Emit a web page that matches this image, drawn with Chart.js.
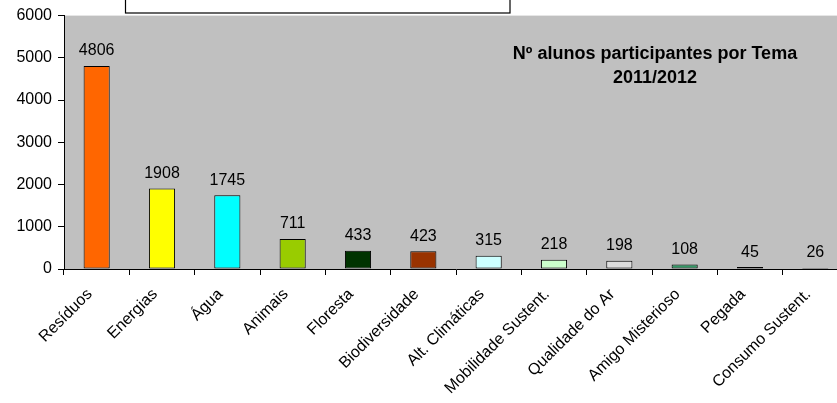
<!DOCTYPE html>
<html>
<head>
<meta charset="utf-8">
<script src="https://cdn.jsdelivr.net/npm/chart.js@4"></script>
<style>
  html, body { margin: 0; padding: 0; background: #fff; overflow: hidden; }
  #wrap { position: relative; width: 850px; height: 403px; }
</style>
</head>
<body>
<div id="wrap"><canvas id="chart"></canvas></div>
<script>
// data
const temas = ['Resíduos', 'Energias', 'Água', 'Animais', 'Floresta', 'Biodiversidade',
    'Alt. Climáticas', 'Mobilidade Sustent.', 'Qualidade do Ar', 'Amigo Misterioso',
    'Pegada', 'Consumo Sustent.'];
const alunos = [4806, 1908, 1745, 711, 433, 423, 315, 218, 198, 108, 45, 26];
const yTicks = [0, 1000, 2000, 3000, 4000, 5000, 6000];
const titleLines = ['Nº alunos participantes por Tema', '2011/2012'];

const barColors = ['#FF6600', '#FFFF00', '#00FFFF', '#99CC00', '#003300', '#993300',
    '#CCFFFF', '#CCFFCC', '#DDDDDD', '#339966', '#6666CC', '#000000'];

const FONT = 'Arial, "Liberation Sans", sans-serif';

// grey plot background + leftover box at the top
const backdrop = {
    id: 'backdrop',
    beforeDraw(chart) {
        const { ctx, chartArea: a } = chart;
        ctx.save();
        ctx.fillStyle = '#C0C0C0';
        ctx.fillRect(a.left, a.top, a.right - a.left, a.bottom - a.top);
        ctx.fillStyle = '#fff';
        ctx.strokeStyle = '#000';
        ctx.lineWidth = 1.2;
        ctx.fillRect(125.5, -2, 384.5, 15);
        ctx.strokeRect(125.5, -2, 384.5, 15);
        ctx.restore();
    }
};

// value labels over the bars and the title inside the plot
const labels = {
    id: 'labels',
    afterDatasetsDraw(chart) {
        const { ctx } = chart;
        const meta = chart.getDatasetMeta(0);
        ctx.save();
        ctx.fillStyle = '#000';
        ctx.font = '16px ' + FONT;
        ctx.textAlign = 'center';
        ctx.textBaseline = 'bottom';
        meta.data.forEach((bar, i) => {
            ctx.fillText(alunos[i], bar.x, bar.y - 7);
        });

        ctx.font = 'bold 18px ' + FONT;
        ctx.textBaseline = 'alphabetic';
        ctx.fillText(titleLines[0], 655, 59);
        ctx.fillText(titleLines[1], 655, 83);
        ctx.restore();
    }
};

new Chart(document.getElementById('chart'), {
    type: 'bar',
    data: {
        labels: temas,
        datasets: [{
            data: alunos,
            backgroundColor: barColors,
            borderColor: '#000',
            borderWidth: 1,
            borderSkipped: false,
            barPercentage: 0.4,
            categoryPercentage: 1
        }]
    },
    options: {
        responsive: true,
        maintainAspectRatio: false,
        animation: false,
        layout: { padding: { top: 15, right: 2, left: 0, bottom: 0 } },
        plugins: {
            legend: { display: false },
            tooltip: { enabled: false }
        },
        scales: {
            x: {
                offset: true,
                grid: {
                    offset: true,
                    drawOnChartArea: false,
                    drawTicks: true,
                    tickLength: 6,
                    color: '#000'
                },
                border: { color: '#000', width: 1 },
                ticks: {
                    color: '#000',
                    font: { family: FONT, size: 16 },
                    minRotation: 45,
                    maxRotation: 45,
                    autoSkip: false,
                    padding: 10,
                    labelOffset: -7
                },
                afterFit(scale) { scale.height = 134; }
            },
            y: {
                min: 0,
                max: 6000,
                afterBuildTicks(scale) { scale.ticks = yTicks.map(v => ({ value: v })); },
                grid: {
                    drawOnChartArea: false,
                    drawTicks: true,
                    tickLength: 6,
                    color: '#000'
                },
                border: { color: '#000', width: 1 },
                ticks: {
                    color: '#000',
                    font: { family: FONT, size: 16 },
                    padding: 6,
                    callback: v => String(v)
                },
                afterFit(scale) { scale.width = 64; }
            }
        }
    },
    plugins: [backdrop, labels]
});
</script>
</body>
</html>
